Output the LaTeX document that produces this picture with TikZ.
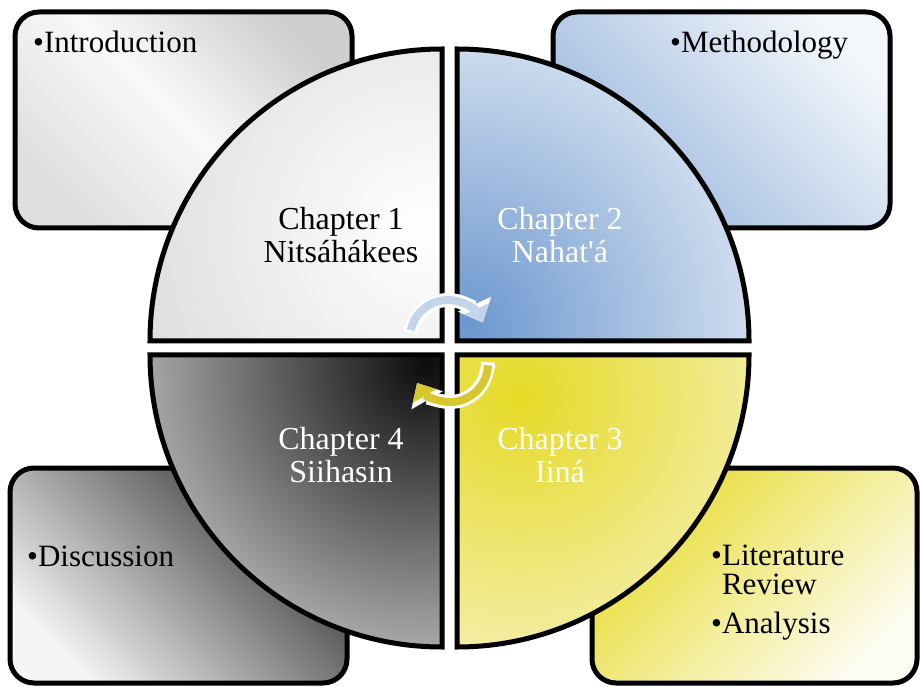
\documentclass[tikz,border=0pt]{standalone}
\usepackage{fontspec}
\setmainfont{Liberation Serif}
\newfontfamily\rawserif{Liberation Serif}
\usetikzlibrary{arrows.meta}
\definecolor{blueA}{HTML}{6B97CF}
\definecolor{blueB}{HTML}{E2EAF4}
\definecolor{yelA}{HTML}{E6DA26}
\definecolor{yelB}{HTML}{F7F3C8}
\definecolor{arrBlue}{HTML}{C4D4EA}
\definecolor{arrYel}{HTML}{D6C82C}
\tikzset{
  box/.style={draw=black, line width=5pt, rounded corners=24pt},
  quad/.style={draw=black, line width=5pt},
  chap/.style={font=\fontsize{32}{33}\selectfont, align=center, inner sep=0pt},
  item/.style={font=\fontsize{31}{33}\selectfont, anchor=base west, inner sep=0pt},
  cyc/.style={line width=8pt, -{Triangle[length=15pt,width=26pt]}},
  cycw/.style={line width=14pt, white, shorten <=-3pt, -{Triangle[length=20pt,width=35pt]}}
}
\begin{document}
\begin{tikzpicture}[x=1pt,y=1pt]
\useasboundingbox (0,0) rectangle (920,686);
% boxes
\draw[box, bottom color=gray!25, top color=gray!38, middle color=gray!5, shading angle=-45] (15,674) rectangle (352,458);
\draw[box, bottom color=blueA!70, top color=blueB!40, shading angle=-45] (553,674) rectangle (890,458);
\draw[box, bottom color=gray!8, top color=black!80, shading angle=-45] (10,218) rectangle (347,3);
\draw[box, top color=yelA!95, bottom color=yelB!25, shading angle=45] (592,218) rectangle (917,3);
% quadrants
\path[quad, path picture={\shade[inner color=white, outer color=gray!30] (420,456) circle (340);}]
  (442,345) -- ++(-292,0) arc[start angle=180, end angle=90, radius=292pt] -- cycle;
\path[quad, path picture={\shade[inner color=blueA, outer color=blueB] (465,360) circle (340);}]
  (457,345) -- ++(0,292) arc[start angle=90, end angle=0, radius=292pt] -- cycle;
\path[quad, path picture={\shade[inner color=yelA, outer color=yelB] (520,290) circle (330);}]
  (457,331) -- ++(292,0) arc[start angle=0, end angle=-90, radius=292pt] -- cycle;
\path[quad, path picture={\shade[inner color=black!95, outer color=gray!60] (425,320) circle (300);}]
  (442,331) -- ++(0,-292) arc[start angle=270, end angle=180, radius=292pt] -- cycle;
% texts
\node[chap] (c1) at (341,451) {Chapter 1\\Nitsáhákees};
\node[chap, text=white] (c2) at (560,451) {Chapter 2\\Nahat{\rawserif '}á};
\node[chap, text=white] (c3) at (560,231) {Chapter 3\\Iiná};
\node[chap, text=white] (c4) at (341,231) {Chapter 4\\Siihasin};
\node[item] (t1) at (33,633) {•Introduction};
\node[item] (t2) at (670,633) {•Methodology};
\node[item] (t4) at (27,120) {•Discussion};
\node[item] (t3a) at (711,121) {•Literature};
\node[item] (t3b) at (711,92) {\phantom{•}Review};
\node[item] (t3c) at (711,53) {•Analysis};
% cycle arrows
\coordinate (ua) at (448,348);
\coordinate (la) at (450,322);
\draw[cycw] ([shift={(168:38)}]ua) arc[start angle=168, end angle=24, radius=38pt];
\draw[cyc, arrBlue] ([shift={(168:38)}]ua) arc[start angle=168, end angle=24, radius=38pt];
\draw[cycw] ([shift={(-2:38)}]la) arc[start angle=-2, end angle=-150, radius=38pt];
\draw[cyc, arrYel] ([shift={(-2:38)}]la) arc[start angle=-2, end angle=-150, radius=38pt];
\end{tikzpicture}
\end{document}
